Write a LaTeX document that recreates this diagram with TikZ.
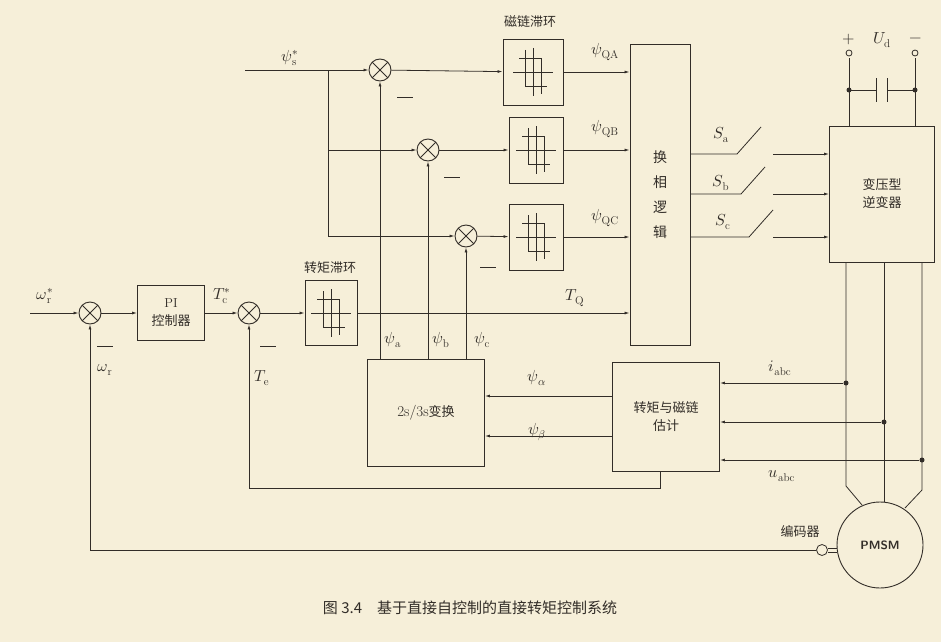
\documentclass[tikz,border=0pt]{standalone}
\usepackage{fontspec}
\usepackage{unicode-math}
\setmathfont{Latin Modern Math}
\newfontfamily\cjk{Noto Sans CJK SC}
\usetikzlibrary{arrows.meta,positioning}
\definecolor{paper}{RGB}{246,239,217}
\definecolor{ink}{RGB}{50,45,40}
\tikzset{
  blk/.style={draw=ink, line width=0.9pt, inner sep=0pt},
  sumc/.style={draw=ink, circle, minimum size=22pt, inner sep=0pt, line width=0.9pt,
    path picture={\draw[ink] (path picture bounding box.north west) -- (path picture bounding box.south east)
      (path picture bounding box.north east) -- (path picture bounding box.south west);}},
  sig/.style={draw=ink, line width=0.8pt, -{Latex[length=5pt,width=3pt]}},
  wire/.style={draw=ink, line width=0.8pt},
  lbl/.style={font=\fontsize{16}{18}\selectfont, text=ink},
  zh/.style={font=\cjk\fontsize{13}{18}\selectfont, text=ink, align=center},
  dot/.style={circle, fill=ink, minimum size=5pt, inner sep=0pt},
}
\newcommand{\hyst}[1]{% hysteresis glyph centred at #1
  \draw[ink, line width=0.9pt, shift={#1}] (-20,0) -- (20,0) (0,-24) -- (0,24)
    (-14,-14) -- (8,-14) -- (8,22) (-8,14) -- (14,14) (-8,-22) -- (-8,14);}
\begin{document}
\begin{tikzpicture}[x=1pt,y=-1pt]
\fill[paper] (0,0) rectangle (941,642);
\useasboundingbox (0,0) rectangle (941,642);
% blocks
\node[sumc] (sw) at (90,313) {};
\node[blk, minimum width=67pt, minimum height=55pt, zh] (pi) at (171,313) {\rmfamily PI\\控制器};
\node[sumc] (st) at (249,313) {};
\node[blk, minimum width=52pt, minimum height=65pt] (ht) at (331,313) {};
\node[sumc] (sa) at (380,70) {};
\node[sumc] (sb) at (428,150) {};
\node[sumc] (sc) at (466,236) {};
\node[blk, minimum width=60pt, minimum height=66pt] (ha) at (533,72) {};
\node[blk, minimum width=54pt, minimum height=66pt] (hb) at (536,150) {};
\node[blk, minimum width=54pt, minimum height=66pt] (hc) at (536,237) {};
\node[blk, minimum width=60pt, minimum height=301pt] (lg) at (660,195) {};
\node[zh, font=\cjk\fontsize{14}{25}\selectfont] at (lg) {换\\相\\逻\\辑};
\node[blk, minimum width=105pt, minimum height=136pt, zh] (inv) at (882,194) {变压型\\逆变器};
\node[blk, minimum width=117pt, minimum height=107pt, font=\fontsize{15}{17}\selectfont, text=ink] (tr) at (426,413) {2s/3s{\cjk\fontsize{13}{15}\selectfont 变换}};
\node[blk, minimum width=107pt, minimum height=109pt, zh] (est) at (666,417) {转矩与磁链\\估计};
\node[draw=ink, circle, minimum size=86pt, line width=0.9pt, font=\sffamily\bfseries\large, text=ink] (pm) at (880,545) {PMSM};
\node[draw=ink, circle, minimum size=11pt, inner sep=0pt, line width=0.8pt] (enc) at (822,550) {};
\foreach \p in {ht,ha,hb,hc} \hyst{(\p)};
% labels
\node[lbl] at (45,296) {$\omega_{\mathrm r}^{*}$};
\node[lbl] at (105,370) {$\omega_{\mathrm r}$};
\node[lbl] at (222,296) {$T_{\mathrm c}^{*}$};
\node[lbl] at (262,378) {$T_{\mathrm e}$};
\node[lbl] at (290,58) {$\psi_{\mathrm s}^{*}$};
\node[zh] at (330,268) {转矩滞环};
\node[zh] at (530,22) {磁链滞环};
\node[lbl] at (605,52) {$\psi_{\mathrm{QA}}$};
\node[lbl] at (605,129) {$\psi_{\mathrm{QB}}$};
\node[lbl] at (605,218) {$\psi_{\mathrm{QC}}$};
\node[lbl] at (575,298) {$T_{\mathrm Q}$};
\node[lbl] at (393,340) {$\psi_{\mathrm a}$};
\node[lbl] at (441,340) {$\psi_{\mathrm b}$};
\node[lbl] at (482,340) {$\psi_{\mathrm c}$};
\node[lbl] at (537,378) {$\psi_{\alpha}$};
\node[lbl] at (537,432) {$\psi_{\beta}$};
\node[lbl] at (780,368) {$i_{\mathrm{abc}}$};
\node[lbl] at (782,476) {$u_{\mathrm{abc}}$};
\node[lbl] at (721,135) {$S_{\mathrm a}$};
\node[lbl] at (721,183) {$S_{\mathrm b}$};
\node[lbl] at (723,222) {$S_{\mathrm c}$};
\node[zh] at (800,532) {编码器};
\foreach \x/\y in {105/346,268/346,405/97,452/177,488/267}
  \draw[ink, line width=0.8pt] (\x-8,\y) -- (\x+8,\y);
% speed and torque loop
\draw[sig] (30,313) -- (sw);
\draw[sig] (sw) -- (pi);
\draw[sig] (pi) -- (st);
\draw[sig] (st) -- (ht);
\draw[sig] (ht) -- (lg.west |- ht);
\draw[sig] (enc.west) -- (90,550) -- (sw);
\draw[sig] (est.south -| 660,0) -- (660,488) -- (249,488) -- (st);
% flux references
\draw[wire] (245,70) -- (328,70) coordinate (j1);
\draw[sig] (j1) -- (sa);
\draw[sig] (j1) |- (sb);
\draw[sig] (j1) |- (sc);
\draw[sig] (sa) -- (ha);
\draw[sig] (sb) -- (hb);
\draw[sig] (sc) -- (hc);
\draw[sig] (ha) -- (lg.west |- ha);
\draw[sig] (hb) -- (lg.west |- hb);
\draw[sig] (hc) -- (lg.west |- hc);
\draw[sig] (tr.north -| sa) -- (sa);
\draw[sig] (tr.north -| sb) -- (sb);
\draw[sig] (tr.north -| sc) -- (sc);
\draw[sig] (est.west |- 0,396) -- (tr.east |- 0,396);
\draw[sig] (est.west |- 0,436) -- (tr.east |- 0,436);
% switches
\foreach \y/\a/\b in {154/737/761,194/741/765,237/749/773}{
  \draw[wire] (lg.east |- 0,\y) -- (\a,\y) -- (\b,\y-27);
  \draw[sig] (773,\y) -- (inv.west |- 0,\y);}
% dc link
\draw[wire] (849,58) -- (849,126) (915,58) -- (915,126);
\draw[ink, line width=0.8pt, fill=paper] (849,53) circle (3) (915,53) circle (3);
\draw[wire] (849,90) -- (876,90) (887,90) -- (915,90);
\draw[ink, line width=1pt] (876,78) -- (876,102) (887,78) -- (887,102);
\node[dot] at (849,90) {};
\node[dot] at (915,90) {};
\node[lbl] at (849,40) {$+$};
\node[lbl] at (882,40) {$U_{\mathrm d}$};
\node[lbl] at (916,40) {$-$};
% motor wiring
\draw[wire] (846,262) -- (846,486) -- (862,505);
\draw[wire] (884,262) -- (884,502);
\draw[wire] (922,262) -- (922,490) -- (905,508);
\node[dot] (da) at (846,383) {};
\node[dot] (db) at (884,422) {};
\node[dot] (dc) at (922,460) {};
\draw[sig] (da) -- (est.east |- da);
\draw[sig] (db) -- (est.east |- db);
\draw[sig] (dc) -- (est.east |- dc);
\draw[wire] (enc.east) ++(0,-2) -- (837,548) (enc.east) ++(0,2) -- (837,552);
% caption
\node[font=\cjk\fontsize{15}{17}\selectfont, text=ink] at (470,608) {图 3.4\quad 基于直接自控制的直接转矩控制系统};
\end{tikzpicture}
\end{document}
